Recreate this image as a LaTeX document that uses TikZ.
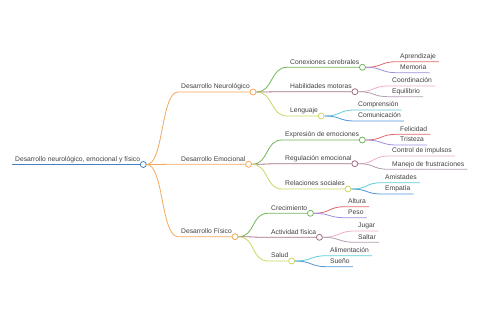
\documentclass[tikz,border=0pt]{standalone}
\usepackage{fontspec}
\setmainfont{Liberation Sans}
\definecolor{txtgray}{RGB}{64,64,64}
\definecolor{rootblue}{RGB}{66,128,200}
\definecolor{mmorange}{RGB}{244,168,92}
\definecolor{mmgreen}{RGB}{112,182,88}
\definecolor{mmmauve}{RGB}{165,110,130}
\definecolor{mmlime}{RGB}{204,214,100}
\definecolor{mmred}{RGB}{226,104,104}
\definecolor{mmpurple}{RGB}{160,142,220}
\definecolor{mmpink}{RGB}{240,172,200}
\definecolor{mmgray}{RGB}{176,160,178}
\definecolor{mmcyan}{RGB}{92,204,216}
\definecolor{mmblue}{RGB}{82,150,214}
\tikzset{
  topic/.style={anchor=south west, inner xsep=3pt, inner ysep=1.5pt, text height=5pt, text depth=1.4pt, text=txtgray},
  dot/.style={circle, draw, fill=white, inner sep=0pt, minimum size=6pt, line width=0.8pt},
  link/.style={line width=0.8pt},
  branch/.style={out=0, in=180, out distance=17pt, in distance=17pt}
}

\begin{document}
\begin{tikzpicture}[x=1pt, y=-1pt, font=\fontsize{6.75}{8}\selectfont]
  \useasboundingbox (0,0) rectangle (480,320);
  % raiz
  \node[topic] (root) at (12,164.5) {Desarrollo neurológico, emocional y físico};
  \node[dot, draw=rootblue] (rootDot) at (root.south east) {};
  \draw[rootblue, line width=1.3pt] (root.south west) -- (rootDot.west);

  % primer nivel
  \node[topic] (neuro) at (178,92) {Desarrollo Neurológico};
  \node[dot, draw=mmorange] (neuroDot) at (neuro.south east) {};
  \draw[link, mmorange] (rootDot.east) to[branch] (neuro.south west) -- (neuroDot.west);
  \node[topic] (emoc) at (178,164.3) {Desarrollo Emocional};
  \node[dot, draw=mmorange] (emocDot) at (emoc.south east) {};
  \draw[link, mmorange] (rootDot.east) to[branch] (emoc.south west) -- (emocDot.west);
  \node[topic] (fisico) at (178,236.7) {Desarrollo Físico};
  \node[dot, draw=mmorange] (fisicoDot) at (fisico.south east) {};
  \draw[link, mmorange] (rootDot.east) to[branch] (fisico.south west) -- (fisicoDot.west);

  % Desarrollo Neurologico
  \node[topic] (conex) at (287,67.3) {Conexiones cerebrales};
  \node[dot, draw=mmgreen] (conexDot) at (conex.south east) {};
  \draw[link, mmgreen] (neuroDot.east) to[branch] (conex.south west) -- (conexDot.west);
  \node[topic] (motor) at (287,91.7) {Habilidades motoras};
  \node[dot, draw=mmmauve] (motorDot) at (motor.south east) {};
  \draw[link, mmmauve] (neuroDot.east) to[branch] (motor.south west) -- (motorDot.west);
  \node[topic] (leng) at (287,116) {Lenguaje};
  \node[dot, draw=mmlime] (lengDot) at (leng.south east) {};
  \draw[link, mmlime] (neuroDot.east) to[branch] (leng.south west) -- (lengDot.west);

  \node[topic] (apren) at (397,61.7) {Aprendizaje};
  \draw[link, mmred] (conexDot.east) to[branch] (apren.south west) -- (apren.south east);
  \node[topic] (memo) at (397,72.7) {Memoria};
  \draw[link, mmpurple] (conexDot.east) to[branch] (memo.south west) -- (memo.south east);
  \node[topic] (coord) at (389,86) {Coordinación};
  \draw[link, mmpink] (motorDot.east) to[branch] (coord.south west) -- (coord.south east);
  \node[topic] (equil) at (389,96.7) {Equilibrio};
  \draw[link, mmgray] (motorDot.east) to[branch] (equil.south west) -- (equil.south east);
  \node[topic] (compr) at (355,110) {Comprensión};
  \draw[link, mmcyan] (lengDot.east) to[branch] (compr.south west) -- (compr.south east);
  \node[topic] (comun) at (355,121) {Comunicación};
  \draw[link, mmblue] (lengDot.east) to[branch] (comun.south west) -- (comun.south east);

  % Desarrollo Emocional
  \node[topic] (expr) at (282,140) {Expresión de emociones};
  \node[dot, draw=mmgreen] (exprDot) at (expr.south east) {};
  \draw[link, mmgreen] (emocDot.east) to[branch] (expr.south west) -- (exprDot.west);
  \node[topic] (regul) at (282,163.7) {Regulación emocional};
  \node[dot, draw=mmmauve] (regulDot) at (regul.south east) {};
  \draw[link, mmmauve] (emocDot.east) to[branch] (regul.south west) -- (regulDot.west);
  \node[topic] (relac) at (282,189) {Relaciones sociales};
  \node[dot, draw=mmlime] (relacDot) at (relac.south east) {};
  \draw[link, mmlime] (emocDot.east) to[branch] (relac.south west) -- (relacDot.west);

  \node[topic] (felic) at (397,134.3) {Felicidad};
  \draw[link, mmred] (exprDot.east) to[branch] (felic.south west) -- (felic.south east);
  \node[topic] (trist) at (397,145) {Tristeza};
  \draw[link, mmpurple] (exprDot.east) to[branch] (trist.south west) -- (trist.south east);
  \node[topic] (contr) at (389,156) {Control de impulsos};
  \draw[link, mmpink] (regulDot.east) to[branch] (contr.south west) -- (contr.south east);
  \node[topic] (manej) at (389,169.3) {Manejo de frustraciones};
  \draw[link, mmgray] (regulDot.east) to[branch] (manej.south west) -- (manej.south east);
  \node[topic] (amist) at (382,182.7) {Amistades};
  \draw[link, mmcyan] (relacDot.east) to[branch] (amist.south west) -- (amist.south east);
  \node[topic] (empat) at (382,194) {Empatía};
  \draw[link, mmblue] (relacDot.east) to[branch] (empat.south west) -- (empat.south east);

  % Desarrollo Fisico
  \node[topic] (crec) at (268,213.3) {Crecimiento};
  \node[dot, draw=mmgreen] (crecDot) at (crec.south east) {};
  \draw[link, mmgreen] (fisicoDot.east) to[branch] (crec.south west) -- (crecDot.west);
  \node[topic] (activ) at (268,237.3) {Actividad física};
  \node[dot, draw=mmmauve] (activDot) at (activ.south east) {};
  \draw[link, mmmauve] (fisicoDot.east) to[branch] (activ.south west) -- (activDot.west);
  \node[topic] (salud) at (268,261) {Salud};
  \node[dot, draw=mmlime] (saludDot) at (salud.south east) {};
  \draw[link, mmlime] (fisicoDot.east) to[branch] (salud.south west) -- (saludDot.west);

  \node[topic] (altura) at (345,206.7) {Altura};
  \draw[link, mmred] (crecDot.east) to[branch] (altura.south west) -- (altura.south east);
  \node[topic] (peso) at (345,217.7) {Peso};
  \draw[link, mmpurple] (crecDot.east) to[branch] (peso.south west) -- (peso.south east);
  \node[topic] (jugar) at (355,231) {Jugar};
  \draw[link, mmpink] (activDot.east) to[branch] (jugar.south west) -- (jugar.south east);
  \node[topic] (saltar) at (355,242.3) {Saltar};
  \draw[link, mmgray] (activDot.east) to[branch] (saltar.south west) -- (saltar.south east);
  \node[topic] (alim) at (327,255.7) {Alimentación};
  \draw[link, mmcyan] (saludDot.east) to[branch] (alim.south west) -- (alim.south east);
  \node[topic] (sueno) at (327,266.7) {Sueño};
  \draw[link, mmblue] (saludDot.east) to[branch] (sueno.south west) -- (sueno.south east);
\end{tikzpicture}
\end{document}
